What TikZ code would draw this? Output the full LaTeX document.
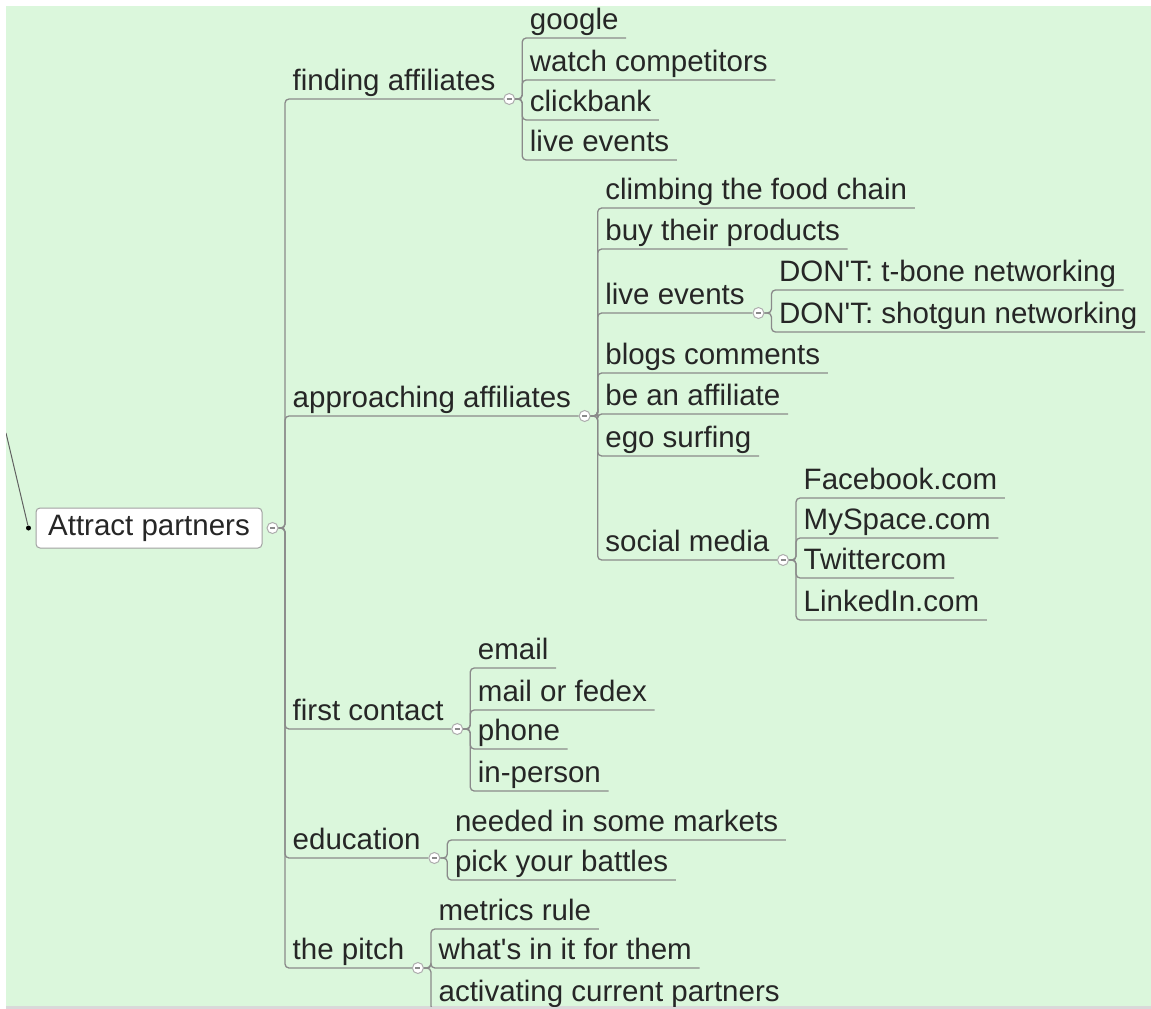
\documentclass[tikz,border=0pt]{standalone}
\usepackage{fontspec}
\newfontfamily\mapfont{Liberation Sans}
\usepackage{tikz}
\usetikzlibrary{positioning}
\definecolor{mapgreen}{RGB}{219,247,220}
\definecolor{linegray}{RGB}{138,138,138}
\definecolor{textgray}{RGB}{38,38,38}

\tikzset{
  topic/.style={anchor=south west, inner xsep=7.5pt, inner ysep=0pt,
    text height=22pt, text depth=8pt, text=textgray,
    font=\mapfont\fontsize{29.5}{32}\selectfont},
  rootbox/.style={draw=linegray!80, fill=white, rounded corners=4pt, line width=1pt,
    minimum width=226pt, minimum height=40pt, inner sep=0pt, text=textgray,
    font=\mapfont\fontsize{29.5}{32}\selectfont},
  link/.style={draw=linegray, line width=1.3pt, rounded corners=4pt},
  fold/.style={circle, draw=linegray!70, fill=white, line width=1pt, anchor=west,
    minimum size=11pt, inner sep=0pt,
    path picture={\draw[linegray, line width=1.3pt]
      ([xshift=-2.5pt]path picture bounding box.center) --
      ([xshift=2.5pt]path picture bounding box.center);}},
  knob/.style={circle, fill=black, minimum size=5pt, inner sep=0pt},
}

\begin{document}
\begin{tikzpicture}[x=1pt, y=-1pt]
  \useasboundingbox (0,0) rectangle (1151,1009);
  % canvas
  \fill[mapgreen] (6,6) rectangle (1151,1006);
  \fill[black!15] (6,1006) rectangle (1151,1009);
  \begin{scope}
  \clip (6,6) rectangle (1151,1006);

  % central topic
  \node[rootbox] (root) at (149,528) {Attract partners};
  \node[fold] (root-f) at ([xshift=4pt]root.east) {};
  \node[knob] (root-k) at ([xshift=-7pt]root.west) {};
  \coordinate (up) at (6,433);
  \draw[linegray!70!black, line width=1pt] (up) -- (root-k);
  \path (root-f.east) ++(6.5,0) coordinate (root-s);

  % main branches
  \foreach \nm/\yy/\txt in {fa/99/finding affiliates, ap/416/approaching affiliates,
      fc/729/first contact, edu/858/education, pitch/968/the pitch}{
    \node[topic] (\nm) at (root-s |- 0,\yy) {\txt};
    \draw[link] (root-f.east) -- (root-s) |- (\nm.south east);
    \node[fold] (\nm-f) at (\nm.south east) {};
    \path (\nm-f.east) ++(7,0) coordinate (\nm-s);
  }

  % sub branches with children of their own
  \foreach \src/\nm/\yy/\txt in {ap/live2/313/live events, ap/social/560/social media}{
    \node[topic] (\nm) at (\src-s |- 0,\yy) {\txt};
    \draw[link] (\src-f.east) -- (\src-s) |- (\nm.south east);
    \node[fold] (\nm-f) at (\nm.south east) {};
    \path (\nm-f.east) ++(7,0) coordinate (\nm-s);
  }

  % leaves
  \foreach \src/\nm/\yy/\txt in {
      fa/goo/38/google, fa/watch/80/watch competitors,
      fa/click/120/clickbank, fa/live1/160/live events,
      ap/climb/208/climbing the food chain, ap/buy/249/buy their products,
      ap/blogs/373/blogs comments, ap/beaff/414/be an affiliate,
      ap/ego/456/ego surfing,
      live2/tbone/290/DON\textquotesingle T: t-bone networking,
      live2/shotgun/332/DON\textquotesingle T: shotgun networking,
      social/fb/498/Facebook.com, social/mysp/538/MySpace.com,
      social/twit/578/Twittercom, social/linked/620/LinkedIn.com,
      fc/email/668/email, fc/mail/710/mail or fedex,
      fc/phone/749/phone, fc/inperson/791/in-person,
      edu/needed/840/needed in some markets, edu/pick/880/pick your battles,
      pitch/metrics/929/metrics rule,
      pitch/whats/968/what\textquotesingle s in it for them,
      pitch/activ/1010/activating current partners}{
    \node[topic] (\nm) at (\src-s |- 0,\yy) {\txt};
    \draw[link] (\src-f.east) -- (\src-s) |- (\nm.south east);
  }
  \end{scope}
\end{tikzpicture}
\end{document}
